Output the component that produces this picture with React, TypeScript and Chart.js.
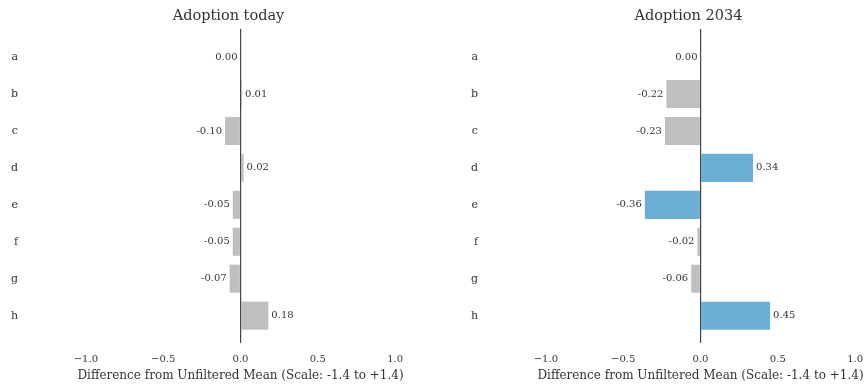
import React, { useEffect, useRef } from "react";
import { Chart, registerables } from "chart.js";

Chart.register(...registerables);

const categories = ["a", "b", "c", "d", "e", "f", "g", "h"];
const todayValues = [0.0, 0.01, -0.1, 0.02, -0.05, -0.05, -0.07, 0.18];
const values2034 = [0.0, -0.22, -0.23, 0.34, -0.36, -0.02, -0.06, 0.45];
const xTickValues = [-1.0, -0.5, 0.0, 0.5, 1.0];
const panelTitles = ["Adoption today", "Adoption 2034"];
const xAxisTitle = "Difference from Unfiltered Mean (Scale: -1.4 to +1.4)";
const xMin = -1.4;
const xMax = 1.4;
const highlightThreshold = 0.3;

const FONT = "'DejaVu Serif', Georgia, serif";
const TEXT = "#333333";
const GREY = "#bfbfbf";
const BLUE = "#6baed6";
const CANVAS_W = 460;
const CANVAS_H = 388;

const valueLabels = {
  id: "valueLabels",
  afterDatasetsDraw(chart: any) {
    const ctx = chart.ctx;
    ctx.save();
    ctx.font = `10px ${FONT}`;
    ctx.fillStyle = TEXT;
    ctx.textBaseline = "middle";
    chart.data.datasets.forEach((ds: any, di: number) => {
      const meta = chart.getDatasetMeta(di);
      meta.data.forEach((el: any, i: number) => {
        const v = ds.data[i].x;
        const { x, y } = el.getProps(["x", "y"], true);
        const txt = v.toFixed(2);
        if (v > 0) {
          ctx.textAlign = "left";
          ctx.fillText(txt, x + 3, y);
        } else {
          ctx.textAlign = "right";
          ctx.fillText(txt, x - 3, y);
        }
      });
    });
    ctx.restore();
  },
};

function Panel({ title, values, left }: { title: string; values: number[]; left: number }) {
  const ref = useRef<HTMLCanvasElement | null>(null);
  useEffect(() => {
    if (!ref.current) return;
    const chart = new Chart(ref.current, {
      type: "bar",
      data: {
        datasets: [
          {
            data: values.map((v, i) => ({ x: v, y: i })),
            backgroundColor: values.map((v) => (Math.abs(v) >= highlightThreshold ? BLUE : GREY)),
            borderWidth: 0,
            barPercentage: 0.76,
            categoryPercentage: 1,
          },
        ],
      },
      options: {
        indexAxis: "y",
        responsive: false,
        animation: false,
        layout: { padding: { left: 0, right: 3, top: 0, bottom: 0 } },
        plugins: {
          legend: { display: false },
          tooltip: { enabled: false },
          title: {
            display: true,
            text: title,
            color: TEXT,
            font: { family: FONT, size: 14.5, weight: "normal" },
            padding: { top: 8, bottom: 3.6 },
          },
        },
        scales: {
          x: {
            type: "linear",
            min: xMin,
            max: xMax,
            z: 1,
            afterBuildTicks: (scale: any) => {
              scale.ticks = xTickValues.map((v) => ({ value: v }));
            },
            afterFit: (scale: any) => {
              scale.height = 45;
            },
            ticks: {
              padding: 10.5,
              color: TEXT,
              font: { family: FONT, size: 10 },
              callback: (v: any) => Number(v).toFixed(1).replace("-", "\u2212"),
            },
            grid: {
              drawTicks: false,
              lineWidth: 1.2,
              color: (c: any) => (c.tick && c.tick.value === 0 ? "#444444" : "rgba(0,0,0,0)"),
            },
            border: { display: false },
            title: {
              display: true,
              text: xAxisTitle,
              color: TEXT,
              font: { family: FONT, size: 12 },
              padding: { top: 0, bottom: 5 },
            },
          },
          y: {
            type: "linear",
            reverse: true,
            offset: false,
            bounds: "data",
            min: -0.76,
            max: categories.length - 1 + 0.74,
            afterBuildTicks: (scale: any) => {
              scale.ticks = categories.map((_, i) => ({ value: i }));
            },
            afterFit: (scale: any) => {
              scale.width = 24;
            },
            ticks: {
              padding: 6,
              color: TEXT,
              font: { family: FONT, size: 11 },
              callback: (v: any) => categories[Math.round(Number(v))] ?? "",
            },
            grid: { display: false, drawTicks: false, offset: false },
            border: { display: false },
          },
        },
      },
      plugins: [valueLabels],
    } as any);
    return () => chart.destroy();
  }, [title, values]);
  return (
    <canvas
      ref={ref}
      width={CANVAS_W}
      height={CANVAS_H}
      style={{ position: "absolute", left, top: 0, width: CANVAS_W, height: CANVAS_H }}
    />
  );
}

export default function App() {
  return (
    <div
      style={{
        position: "fixed",
        left: 0,
        top: 0,
        width: 864,
        height: 388,
        overflow: "hidden",
        background: "#ffffff",
      }}
    >
      <Panel title={panelTitles[0]} values={todayValues} left={0} />
      <Panel title={panelTitles[1]} values={values2034} left={460} />
    </div>
  );
}
